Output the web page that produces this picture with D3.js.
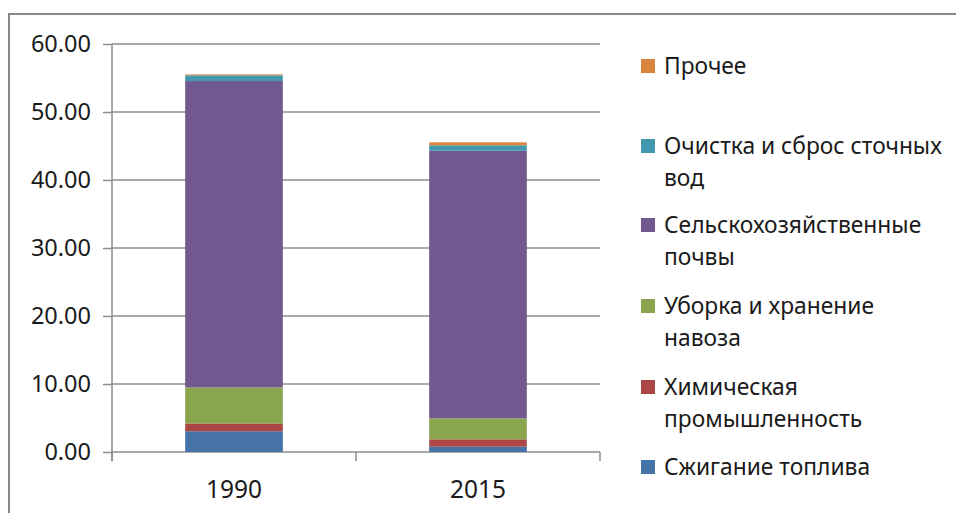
<!DOCTYPE html>
<html>
<head>
<meta charset="utf-8">
<script src="https://cdn.jsdelivr.net/npm/d3@7"></script>
<style>
  body { margin: 0; background: #fff; }
  svg text { font-family: "Noto Sans", "Open Sans", sans-serif; fill: #1a1a1a; }
</style>
</head>
<body>
<div id="chart"></div>
<script>
// data
let years = ["1990", "2015"];
let seriesNames = ["Сжигание топлива", "Химическая промышленность", "Уборка и хранение навоза",
  "Сельскохозяйственные почвы", "Очистка и сброс сточных вод", "Прочее"];
// legend lines (wrapped as in the original)
let legendLines = [["Сжигание топлива"], ["Химическая", "промышленность"], ["Уборка и хранение", "навоза"],
  ["Сельскохозяйственные", "почвы"], ["Очистка и сброс сточных", "вод"], ["Прочее"]];
let fuel = [3.05, 0.78];
let chem = [1.15, 1.08];
let manure = [5.30, 3.09];
let soils = [45.05, 39.35];
let water = [0.84, 0.80];
let other = [0.14, 0.44];
let yTicks = [0, 10, 20, 30, 40, 50, 60];
let colors = ["#4572a7", "#aa4643", "#89a54e", "#71588f", "#4198af", "#db843d"];

let width = 956, height = 513;
let plot = {left: 112, right: 600, top: 44, bottom: 452};

let svg = d3.select("#chart").append("svg")
  .attr("width", width)
  .attr("height", height);

// outer frame of the chart area
svg.append("rect")
  .attr("x", 9).attr("y", 14)
  .attr("width", width + 20).attr("height", height + 20)
  .attr("fill", "none")
  .attr("stroke", "#878787")
  .attr("stroke-width", 2);

let x = d3.scaleBand().domain(years).range([plot.left, plot.right])
  .paddingInner(0.6).paddingOuter(0.3);
let y = d3.scaleLinear().domain([0, 60]).range([plot.bottom, plot.top]);

// gridlines
svg.append("g").selectAll("line").data(yTicks).join("line")
  .attr("x1", plot.left).attr("x2", plot.right)
  .attr("y1", d => y(d)).attr("y2", d => y(d))
  .attr("stroke", "#8c8c8c").attr("stroke-width", 1.5);

// stacked bars
let table = years.map((yr, i) => ({year: yr, s0: fuel[i], s1: chem[i], s2: manure[i], s3: soils[i], s4: water[i], s5: other[i]}));
let keys = ["s0", "s1", "s2", "s3", "s4", "s5"];
let stacked = d3.stack().keys(keys)(table);

svg.append("g").selectAll("g").data(stacked).join("g")
  .attr("fill", (d, i) => colors[i])
  .selectAll("rect").data(d => d).join("rect")
  .attr("x", d => x(d.data.year))
  .attr("width", x.bandwidth())
  .attr("y", d => y(d[1]))
  .attr("height", d => y(d[0]) - y(d[1]));

// y axis
let yAxis = d3.axisLeft(y).tickValues(yTicks).tickSize(9).tickPadding(12)
  .tickFormat(d3.format(".2f"));
let yg = svg.append("g").attr("transform", "translate(" + plot.left + ",0)").call(yAxis);
yg.select(".domain").remove();
yg.selectAll("line").attr("stroke", "#8c8c8c").attr("stroke-width", 1.5);
yg.selectAll("text").style("font-size", "23.5px").attr("fill", "#1a1a1a");
svg.append("line")
  .attr("x1", plot.left).attr("x2", plot.left)
  .attr("y1", plot.top).attr("y2", plot.bottom + 9)
  .attr("stroke", "#8c8c8c").attr("stroke-width", 1.5);

// x axis: ticks between categories
let bounds = [plot.left, plot.left + x.step(), plot.right];
svg.append("g").selectAll("line").data(bounds).join("line")
  .attr("x1", d => d).attr("x2", d => d)
  .attr("y1", plot.bottom).attr("y2", plot.bottom + 9)
  .attr("stroke", "#8c8c8c").attr("stroke-width", 1.5);
svg.append("g").selectAll("text").data(years).join("text")
  .attr("x", d => x(d) + x.bandwidth() / 2)
  .attr("y", 498)
  .attr("text-anchor", "middle")
  .style("font-size", "24.5px")
  .text(d => d);

// legend (top entry = last series)
let legendTop = [467, 387, 306, 225, 146, 66];
let lg = svg.append("g").selectAll("g").data(seriesNames).join("g")
  .attr("transform", (d, i) => "translate(641," + legendTop[i] + ")");
lg.append("rect")
  .attr("x", 0).attr("y", -7).attr("width", 14).attr("height", 14)
  .attr("fill", (d, i) => colors[i]);
lg.each(function(d, i) {
  let t = d3.select(this).append("text").attr("x", 23).attr("y", 8).style("font-size", "22.8px");
  legendLines[i].forEach((ln, j) => {
    t.append("tspan").attr("x", 23).attr("dy", j == 0 ? 0 : 32).text(ln);
  });
});
</script>
</body>
</html>
